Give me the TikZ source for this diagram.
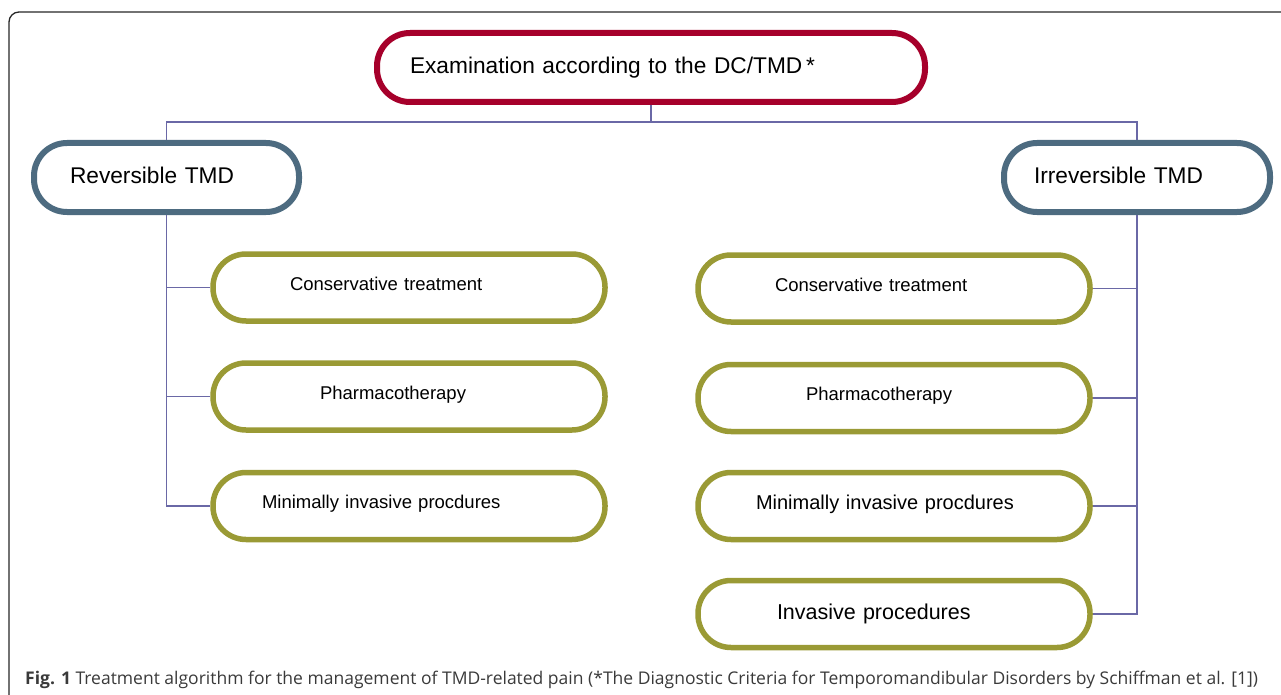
\documentclass[tikz,border=0pt]{standalone}
\usepackage{fontspec}
\setmainfont{Liberation Sans}
\newfontfamily\captionfont{Open Sans}
\usepackage{tikz}
\usetikzlibrary{positioning}
\usetikzlibrary{calc}
\definecolor{examred}{HTML}{A6002B}
\definecolor{tmdblue}{HTML}{4D6B80}
\definecolor{steporange}{HTML}{9A9A35}
\definecolor{linkpurple}{HTML}{6A68A6}
\definecolor{captiongray}{HTML}{3A3A3A}
\tikzset{
    treatment chart/.style={
            x=1pt,y=-1pt,
            box/.style={draw, fill=white, rounded corners=33pt, align=left, inner ysep=0pt},
            exambox/.style={box, draw=examred, line width=6pt, text height=41pt, text depth=28pt,
                    font=\fontsize{22.7}{26}\selectfont},
            tmdbox/.style={box, draw=tmdblue, line width=6pt, text height=40pt, text depth=29pt,
                    font=\fontsize{22.7}{26}\selectfont},
            stepbox/.style={box, draw=steporange, line width=5.5pt, text height=36pt, text depth=31pt,
                    font=\fontsize{18.5}{22}\selectfont},
            link/.style={draw=linkpurple, line width=1.5pt}
        }
    }

\begin{document}
\begin{tikzpicture}[treatment chart]
    \useasboundingbox (0,0) rectangle (1281,695);
    \draw [black!85, line width=1.3pt, rounded corners=10pt] (9,12) rectangle (1300,715);

    \coordinate (split) at (651,122);

    \node [exambox, text width=482pt, inner xsep=33pt] (exam) at (651,67.5) {Examination according to the DC/TMD\,*};
    \node [tmdbox, text width=193pt, inner xsep=36pt] (rev) at (166.5,177.5) {Reversible TMD};
    \node [tmdbox, text width=206pt, inner xsep=30pt] (irr) at (1137,177.5) {Irreversible TMD};

    % reversible branch
    \node [stepbox, text width=238pt, inner xsep=77pt] (revcons) at (409,287.5) {Conservative treatment};
    \node [stepbox, text width=178pt, inner xsep=107pt] (revpharm) at (409,396.5) {Pharmacotherapy};
    \node [stepbox, text width=294pt, inner xsep=49pt] (revmin) at (409,506) {Minimally invasive procdures};

    % irreversible branch
    \node [stepbox, text width=238pt, inner xsep=77pt] (irrcons) at (894,288.5) {Conservative treatment};
    \node [stepbox, text width=176pt, inner xsep=108pt] (irrpharm) at (894,398) {Pharmacotherapy};
    \node [stepbox, text width=276pt, inner xsep=58pt, text height=37pt, text depth=30pt,
        font=\fontsize{20}{24}\selectfont] (irrmin) at (894,506) {Minimally invasive procdures};
    \node [stepbox, text width=234pt, inner xsep=79pt, text height=39pt, text depth=28pt,
        font=\fontsize{21.5}{25}\selectfont] (irrinv) at (894,614) {Invasive procedures};

    \draw [link] (exam.south) -- (split);
    \draw [link] (rev.north) |- (split) -| (irr.north);

    \draw [link] (rev.south) |- (revcons.west);
    \draw [link] (rev.south) |- (revpharm.west);
    \draw [link] (rev.south) |- (revmin.west);

    \draw [link] (irr.south) |- (irrcons.east);
    \draw [link] (irr.south) |- (irrpharm.east);
    \draw [link] (irr.south) |- (irrmin.east);
    \draw [link] (irr.south) |- (irrinv.east);

    \node [anchor=base west, inner sep=0pt, text=captiongray, font=\captionfont\fontsize{17.5}{20}\selectfont] (caption) at (25,684)
        {\textbf{Fig. 1} Treatment algorithm for the management of TMD-related pain (*The Diagnostic Criteria for Temporomandibular Disorders by Schiffman et al. [1])};
\end{tikzpicture}
\end{document}
